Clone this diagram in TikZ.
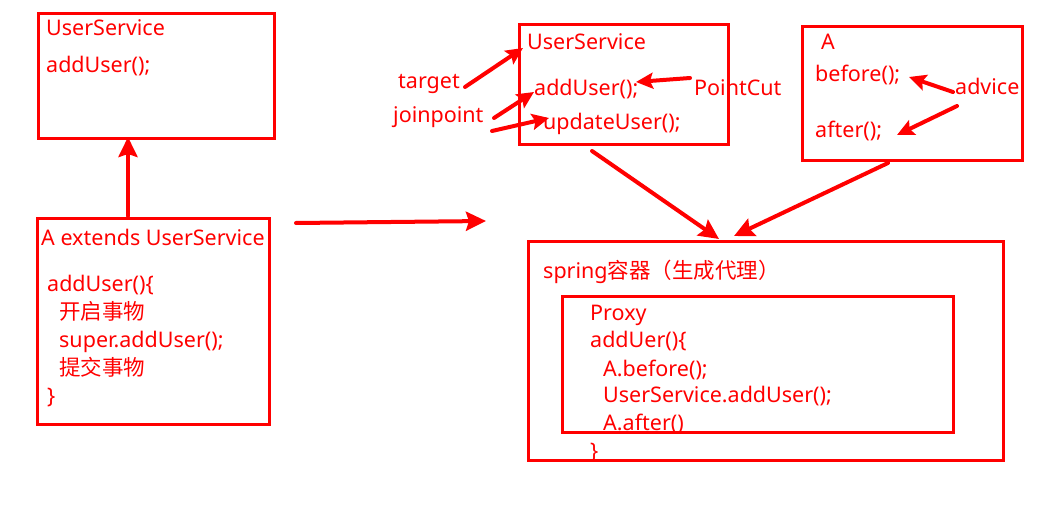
\documentclass[tikz,border=0pt]{standalone}
\usepackage{fontspec}
\setmainfont{Noto Sans}
\newfontfamily\cjk{Noto Sans CJK SC}
\usetikzlibrary{arrows.meta}
\definecolor{rd}{RGB}{255,0,0}
\tikzset{
  box/.style={draw=rd, line width=3pt, inner sep=0pt, anchor=north west},
  txt/.style={text=rd, anchor=base west, inner sep=0pt, font=\fontsize{21.5}{26}\selectfont},
  arr/.style={draw=rd, line width=4pt, line cap=round, -{Stealth[length=20pt,width=19pt,inset=3pt]}},
  sarr/.style={draw=rd, line width=4pt, line cap=round, -{Stealth[length=17pt,width=16pt,inset=3pt]}}
}
\begin{document}
\begin{tikzpicture}[x=1pt,y=-1pt]
\useasboundingbox (0,0) rectangle (1050,508);
% boxes
\node[box, minimum width=236pt, minimum height=125pt] (b1) at (37,12) {};
\node[box, minimum width=232pt, minimum height=206pt] (b2) at (36,217) {};
\node[box, minimum width=209pt, minimum height=120pt] (b3) at (518,23) {};
\node[box, minimum width=220pt, minimum height=134pt] (b4) at (801,25) {};
\node[box, minimum width=475pt, minimum height=219pt] (b5) at (527,240) {};
\node[box, minimum width=391pt, minimum height=136pt] (b6) at (561,295) {};
% box1 texts
\node[txt] (t11) at (46,36) {UserService};
\node[txt] (t12) at (46,73) {addUser();};
% box2 texts
\node[txt] (t21) at (41,245) {A extends UserService};
\node[txt] (t22) at (47,291) {addUser()\{};
\node[txt] (t23) at (59,319) {\cjk 开启事物};
\node[txt] (t24) at (59,347) {super.addUser();};
\node[txt] (t25) at (59,375) {\cjk 提交事物};
\node[txt] (t26) at (47,403) {\}};
% box3 texts
\node[txt] (t31) at (527,50) {UserService};
\node[txt] (t32) at (534,96) {addUser();};
\node[txt] (t33) at (543,130) {updateUser();};
\node[txt] (tg) at (398,89) {target};
\node[txt] (jp) at (393,123) {joinpoint};
\node[txt] (pc) at (694,96) {PointCut};
% box4 texts
\node[txt] (t41) at (821,50) {A};
\node[txt] (t42) at (815,82) {before();};
\node[txt] (t43) at (815,138) {after();};
\node[txt] (adv) at (955,95) {advice};
% box5/6 texts
\node[txt] (t51) at (543,278) {spring{\cjk 容器（生成代理）}};
\node[txt] (t61) at (590,320) {Proxy};
\node[txt] (t62) at (590,347) {addUer()\{};
\node[txt] (t63) at (603,376) {A.before();};
\node[txt] (t64) at (603,402) {UserService.addUser();};
\node[txt] (t65) at (603,430) {A.after()};
\node[txt] (t66) at (590,458) {\}};
% arrow endpoints
\coordinate (v1) at (128,216);
\coordinate (v2) at (128,137);
\coordinate (h1) at (296,223);
\coordinate (h2) at (486,221);
\coordinate (d1) at (592,151);
\coordinate (d2) at (719,239);
\coordinate (e1) at (888,163);
\coordinate (e2) at (734,236);
\coordinate (ta) at (465,87);
\coordinate (tb) at (523,48);
\coordinate (ja) at (494,118);
\coordinate (jb) at (534,92);
\coordinate (jc) at (492,131);
\coordinate (jd) at (549,118);
\coordinate (pa) at (690,78);
\coordinate (pb) at (636,82);
\coordinate (aa) at (953,92);
\coordinate (ab) at (909,77);
\coordinate (ac) at (957,106);
\coordinate (ad) at (897,135);
% arrows
\draw[arr] (v1) -- (v2);
\draw[arr] (h1) -- (h2);
\draw[arr] (d1) -- (d2);
\draw[arr] (e1) -- (e2);
\draw[sarr] (ta) -- (tb);
\draw[sarr] (ja) -- (jb);
\draw[sarr] (jc) -- (jd);
\draw[sarr] (pa) -- (pb);
\draw[sarr] (aa) -- (ab);
\draw[sarr] (ac) -- (ad);
\end{tikzpicture}
\end{document}
